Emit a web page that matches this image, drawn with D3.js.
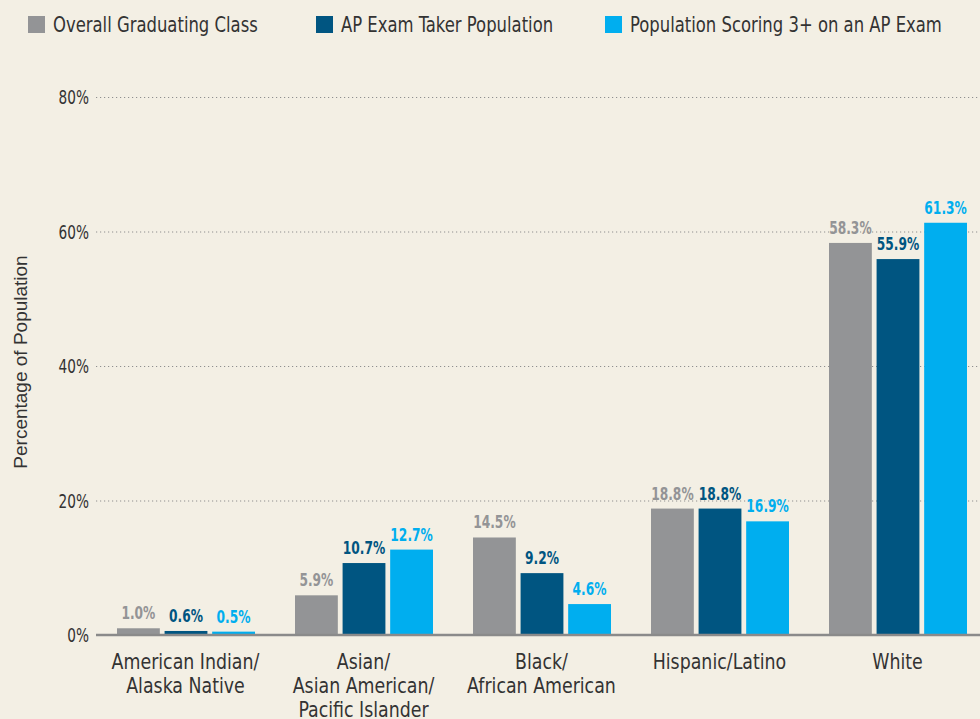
<!DOCTYPE html>
<html><head><meta charset="utf-8">
<script src="https://cdn.jsdelivr.net/npm/d3@7"></script>
<style>
html,body{margin:0;padding:0;background:#f3efe4;}
svg{display:block;}
</style></head>
<body>
<script>
const categories = [
  ["American Indian/", "Alaska Native"],
  ["Asian/", "Asian American/", "Pacific Islander"],
  ["Black/", "African American"],
  ["Hispanic/Latino"],
  ["White"]
];
const seriesNames = ["Overall Graduating Class", "AP Exam Taker Population", "Population Scoring 3+ on an AP Exam"];
const overall = [1.0, 5.9, 14.5, 18.8, 58.3];
const apTakers = [0.6, 10.7, 9.2, 18.8, 55.9];
const scoring3 = [0.5, 12.7, 4.6, 16.9, 61.3];
const yTicks = [0, 20, 40, 60, 80];
const colors = ["#939496", "#005581", "#00aeef"];
const yLabel = "Percentage of Population";

const W = 980, H = 719;
const series = [overall, apTakers, scoring3];
const cond = "'DejaVu Sans Condensed','Liberation Sans Narrow',Arial,sans-serif";

function condense(sel, f) {
  sel.each(function() {
    const len = this.getComputedTextLength();
    d3.select(this).attr("textLength", len * f).attr("lengthAdjust", "spacingAndGlyphs");
  });
}

const svg = d3.select("body").append("svg").attr("width", W).attr("height", H)
  .style("background", "#f3efe4");

const y = d3.scaleLinear().domain([0, 80]).range([635, 97]);
const x0 = d3.scaleBand().domain(d3.range(categories.length)).range([97, 987]).paddingInner(0).paddingOuter(0);
const x1 = d3.scaleBand().domain(d3.range(3)).range([20, 158]).paddingInner(0.1);

// gridlines
svg.append("g").selectAll("line").data(yTicks.filter(d => d > 0)).join("line")
  .attr("x1", 96).attr("x2", W).attr("y1", d => y(d) + 0.5).attr("y2", d => y(d) + 0.5)
  .attr("stroke", "#8f8f8f").attr("stroke-width", 1).attr("stroke-dasharray", "1.2,2.8");

// tick labels
svg.append("g").selectAll("text").data(yTicks).join("text")
  .attr("x", 89).attr("y", d => y(d) + 7)
  .attr("text-anchor", "end").attr("font-family", cond).attr("font-size", 19)
  .attr("fill", "#333").text(d => d + "%")
  .call(condense, 0.8);

// y label
svg.append("text").attr("transform", "translate(27,362) rotate(-90)")
  .attr("text-anchor", "middle").attr("font-family", "'Liberation Sans',Arial,sans-serif")
  .attr("font-size", 19).attr("fill", "#333").text(yLabel);

// bars
const groups = svg.append("g").selectAll("g").data(categories).join("g")
  .attr("transform", (d, i) => `translate(${x0(i)},0)`);

groups.each(function(cat, i) {
  const g = d3.select(this);
  series.forEach((s, j) => {
    g.append("rect").attr("x", x1(j)).attr("width", x1.bandwidth())
      .attr("y", y(s[i])).attr("height", y(0) - y(s[i])).attr("fill", colors[j]);
    g.append("text").attr("x", x1(j) + x1.bandwidth() / 2).attr("y", y(s[i]) - 9)
      .attr("text-anchor", "middle").attr("font-family", cond).attr("font-weight", "bold")
      .attr("font-size", 17).attr("fill", colors[j]).text(s[i].toFixed(1) + "%")
      .call(condense, 0.8);
  });
  cat.forEach((line, k) => {
    g.append("text").attr("x", x0.bandwidth() / 2 - 0.5).attr("y", 669 + k * 24)
      .attr("text-anchor", "middle").attr("font-family", cond).attr("font-size", 21)
      .attr("fill", "#333").text(line)
      .call(condense, 0.92);
  });
});

// baseline
svg.append("line").attr("x1", 96).attr("x2", W).attr("y1", y(0)).attr("y2", y(0))
  .attr("stroke", "#8a8a8a").attr("stroke-width", 2.5);

// legend
const legX = [28, 316, 605];
const leg = svg.append("g").selectAll("g").data(seriesNames).join("g")
  .attr("transform", (d, i) => `translate(${legX[i]},16)`);
leg.append("rect").attr("width", 17).attr("height", 17).attr("fill", (d, i) => colors[i]);
leg.append("text").attr("x", 25).attr("y", 16).attr("font-family", cond).attr("font-size", 21)
  .attr("fill", "#333").text(d => d)
  .call(condense, 0.87);
</script>
</body></html>
